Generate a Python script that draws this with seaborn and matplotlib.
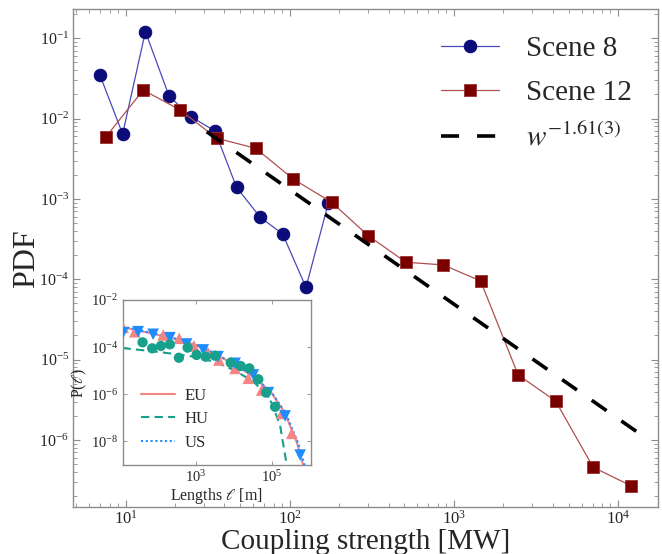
import numpy as np
import pandas as pd
import matplotlib
matplotlib.use("Agg")
import matplotlib.pyplot as plt
import seaborn as sns
from matplotlib.ticker import LogLocator, LogFormatterMathtext, NullFormatter, NullLocator, FixedLocator

# ---------------- data ----------------
scene8_w = [6.97, 9.59, 13.2, 18.4, 25.0, 35.0, 47.4, 66.1, 90.5, 125.6, 171.8]
scene8_pdf = [0.0349, 0.00644, 0.121, 0.0191, 0.01057, 0.00702, 0.001397,
              0.000591, 0.000367, 7.94e-5, 0.000883]

scene12_w = [7.55, 12.8, 21.5, 35.9, 61.9, 105, 180, 301, 510, 861, 1455,
             2465, 4170, 7060, 11990]
scene12_pdf = [0.00586, 0.0227, 0.0128, 0.00569, 0.00428, 0.00177, 0.000908,
               0.000349, 0.000163, 0.000151, 9.53e-5, 6.44e-6, 3.05e-6,
               4.57e-7, 2.69e-7]

fit_w = [31.2, 13930]
fit_pdf = [6.87e-3, 1.15e-6]

# inset: line-length distributions
eu_len = [11.9, 24.3, 136, 361, 885, 2080, 4060, 10800, 24200, 54700, 185000, 340000]
eu_p = [10**-3.16, 10**-3.345, 10**-3.485, 10**-3.625, 10**-3.95, 10**-4.236,
        10**-4.546, 10**-4.90, 10**-5.32, 10**-5.82, 10**-6.81, 10**-7.655]

us_len = [11.9, 29.8, 74, 205, 567, 1560, 3820, 10800, 32800, 81800, 226000, 564000]
us_p = [10**-3.39, 10**-3.345, 10**-3.455, 10**-3.60, 10**-3.867, 10**-4.12,
        10**-4.405, 10**-4.686, 10**-5.18, 10**-5.93, 10**-6.92, 10**-8.58]

hu_len = [38.9, 69.8, 119, 205, 355, 603, 1040, 1800, 3190, 8280, 15200, 25700,
          44400, 71100, 123000]
hu_p = [10**-3.795, 10**-4.05, 10**-3.95, 10**-3.88, 10**-4.45, 10**-4.02,
        10**-4.33, 10**-4.405, 10**-4.363, 10**-4.66, 10**-4.80, 10**-4.90,
        10**-5.364, 10**-5.93, 10**-6.53]

# fitted curves
eufit_len = [11.5, 60, 275, 1000, 3160, 10000, 31600, 100000, 224000, 468000, 676000]
eufit_p = [10**-3.15, 10**-3.40, 10**-3.65, 10**-3.91, 10**-4.29, 10**-4.72,
           10**-5.22, 10**-5.95, 10**-6.8, 10**-8.07, 10**-9.0]
usfit_len = [11.5, 60, 275, 1000, 3160, 10000, 31600, 100000, 235000, 500000, 740000]
usfit_p = [10**-3.12, 10**-3.38, 10**-3.63, 10**-3.89, 10**-4.27, 10**-4.70,
           10**-5.20, 10**-5.92, 10**-6.8, 10**-8.07, 10**-9.0]
hufit_len = [11.5, 60, 275, 1000, 3160, 10000, 31600, 68000, 100000, 166000, 250000]
hufit_p = [10**-4.04, 10**-4.16, 10**-4.29, 10**-4.42, 10**-4.63, 10**-4.97,
           10**-5.44, 10**-5.95, 10**-6.37, 10**-7.3, 10**-9.0]

# ---------------- style ----------------
sns.set_style("ticks")
plt.rcParams['font.family'] = ['Liberation Serif', 'DejaVu Serif']
plt.rcParams['mathtext.fontset'] = 'stix'
frame_col = '#8c8c8c'

fig = plt.figure(figsize=(6.62, 5.54), dpi=100)
W, H = 662, 554
ax = fig.add_axes([73.3 / W, 1 - 507.3 / H, (657.7 - 73.3) / W, (507.3 - 9.3) / H])
ax.set_xscale('log')
ax.set_yscale('log')

sns.lineplot(x=scene8_w, y=scene8_pdf, ax=ax, sort=False, estimator=None,
             color='#4a4ab8', linewidth=0.9, marker='o', markersize=9,
             markerfacecolor='#0b0b7a', markeredgecolor='#0b0b7a')
sns.lineplot(x=scene12_w, y=scene12_pdf, ax=ax, sort=False, estimator=None,
             color='#b05050', linewidth=0.9, marker='s', markersize=8,
             markerfacecolor='#7a0000', markeredgecolor='#9a3030', markeredgewidth=0.6)
sns.lineplot(x=fit_w, y=fit_pdf, ax=ax, sort=False, estimator=None,
             color='black', linewidth=2.6, dashes=False)
lines = ax.get_lines()
lines[2].set_dashes((5.0, 5.0))

ax.set_xlim(4.80, 17460)
ax.set_ylim(1.45e-7, 0.2296)

ax.xaxis.set_major_locator(LogLocator(base=10, numticks=20))
ax.yaxis.set_major_locator(LogLocator(base=10, numticks=20))
ax.xaxis.set_minor_locator(LogLocator(base=10, subs=np.arange(2, 10), numticks=50))
ax.yaxis.set_minor_locator(LogLocator(base=10, subs=np.arange(2, 10), numticks=50))
ax.xaxis.set_major_formatter(LogFormatterMathtext())
ax.yaxis.set_major_formatter(LogFormatterMathtext())
ax.xaxis.set_minor_formatter(NullFormatter())
ax.yaxis.set_minor_formatter(NullFormatter())
ax.tick_params(which='both', direction='in', top=True, right=True, color=frame_col)
ax.tick_params(which='major', length=5, width=0.8)
ax.tick_params(which='minor', length=3, width=0.6)
ax.tick_params(axis='x', which='major', labelsize=12, pad=2)
ax.tick_params(axis='y', which='major', labelsize=11.5, pad=3)
for s in ax.spines.values():
    s.set_color(frame_col)
    s.set_linewidth(1.0)

ax.set_xlabel('Coupling strength [MW]', fontsize=21)
ax.xaxis.label.set_va('baseline')
ax.xaxis.set_label_coords(0.5, (507.3 - 549) / 498.0)
ax.set_ylabel('PDF', fontsize=23)
ax.yaxis.set_label_coords((41 - 73.3) / 584.4, 0.5)

ax.legend(lines, ['Scene 8', 'Scene 12', r'$w^{-1.61(3)}$'], loc='upper right',
          bbox_to_anchor=(1.0, 1.0), frameon=False, fontsize=21,
          handlelength=2.0, handletextpad=0.9, labelspacing=0.6)

# ---------------- inset ----------------
ins = fig.add_axes([122.5 / W, 1 - 465 / H, (310.5 - 122.5) / W, 165 / H])
ins.set_xscale('log')
ins.set_yscale('log')
pink, teal, blue = '#f58585', '#17a08c', '#1e8cff'

sns.lineplot(x=eufit_len, y=eufit_p, ax=ins, sort=False, estimator=None,
             color=pink, linewidth=1.5, label='EU')
sns.lineplot(x=hufit_len, y=hufit_p, ax=ins, sort=False, estimator=None,
             color=teal, linewidth=1.5, label='HU')
sns.lineplot(x=usfit_len, y=usfit_p, ax=ins, sort=False, estimator=None,
             color=blue, linewidth=1.5, label='US')
ilines = ins.get_lines()
ilines[1].set_dashes((4, 2.5))
ilines[2].set_dashes((1, 1.3))
sns.scatterplot(x=eu_len, y=eu_p, ax=ins, marker='^', s=70, color=pink,
                edgecolor='none', zorder=3)
sns.scatterplot(x=hu_len, y=hu_p, ax=ins, marker='o', s=55, color=teal,
                edgecolor='none', zorder=4)
sns.scatterplot(x=us_len, y=us_p, ax=ins, marker='v', s=70, color=blue,
                edgecolor='none', zorder=3)

ins.set_xlim(11.5, 1.06e6)
ins.set_ylim(1e-9, 1e-2)
ins.xaxis.set_major_locator(FixedLocator([1e3, 1e5]))
ins.yaxis.set_major_locator(FixedLocator([1e-2, 1e-4, 1e-6, 1e-8]))
ins.xaxis.set_minor_locator(NullLocator())
ins.yaxis.set_minor_locator(NullLocator())
ins.xaxis.set_major_formatter(LogFormatterMathtext())
ins.yaxis.set_major_formatter(LogFormatterMathtext())
ins.tick_params(which='both', direction='in', top=True, right=True, color=frame_col,
                length=3, width=0.6, labelsize=10.5, pad=3)
for s in ins.spines.values():
    s.set_color(frame_col)
    s.set_linewidth(1.0)
ins.set_xlabel(r'Lengths $\ell$ [m]', fontsize=11.5, labelpad=1)
ins.set_ylabel(r'P($\ell$)', fontsize=11.5, labelpad=1)
ins.legend(ilines, ['EU', 'HU', 'US'], loc='lower left', bbox_to_anchor=(0.02, -0.005),
           frameon=False, fontsize=12, handlelength=2.0, handletextpad=0.6,
           labelspacing=0.45)

fig.savefig('out.png', dpi=100)
